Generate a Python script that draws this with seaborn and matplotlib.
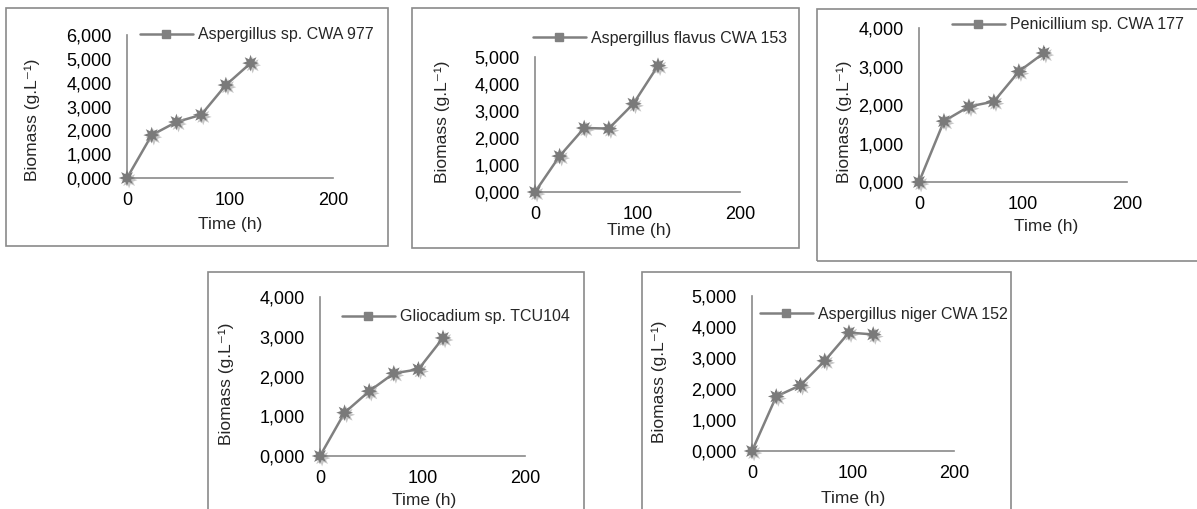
import matplotlib
matplotlib.use('Agg')
import matplotlib.pyplot as plt
import matplotlib.patheffects as pe
from matplotlib.lines import Line2D
from matplotlib.patches import Rectangle
import pandas as pd
import seaborn as sns

time_h = [0, 24, 48, 72, 96, 120]

strains = ['Aspergillus sp. CWA 977', 'Aspergillus flavus CWA 153', 'Penicillium sp. CWA 177',
           'Gliocadium sp. TCU104', 'Aspergillus niger CWA 152']
biomass_977 = [0, 1800, 2350, 2650, 3900, 4820]
biomass_153 = [0, 1330, 2370, 2350, 3270, 4680]
biomass_177 = [0, 1580, 1960, 2090, 2870, 3350]
biomass_104 = [0, 1090, 1630, 2080, 2180, 2970]
biomass_152 = [0, 1760, 2120, 2910, 3820, 3760]
err_977 = [60, 150, 150, 140, 170, 150]
err_153 = [60, 170, 140, 140, 170, 150]
err_177 = [60, 140, 140, 140, 150, 150]
err_104 = [40, 130, 130, 130, 130, 130]
err_152 = [60, 170, 170, 170, 170, 170]
y_max = [6000, 5000, 4000, 4000, 5000]
series = [biomass_977, biomass_153, biomass_177, biomass_104, biomass_152]
errors = [err_977, err_153, err_177, err_104, err_152]

# layout in pixels: axes (left, y of 0, right, y of ymax), ylabel centre, xlabel centre, legend start, box
layout = [
    dict(ax=(127, 178, 333, 35), yl=(32, 120), xl=(230, 224), lg=(140, 35), box=(6, 8, 388, 246)),
    dict(ax=(535, 192, 740, 57), yl=(442, 122), xl=(639, 231), lg=(533, 38), box=(412, 8, 799, 248)),
    dict(ax=(919, 182, 1127, 28), yl=(844, 122), xl=(1046, 227), lg=(952, 25), box=(817, 9, 1205, 261)),
    dict(ax=(320, 456, 525, 297), yl=(226, 384), xl=(424, 500), lg=(342, 317), box=(208, 272, 584, 520)),
    dict(ax=(752, 451, 954, 296), yl=(659, 382), xl=(853, 498), lg=(760, 314), box=(642, 272, 1011, 520)),
]

W, H = 1197, 509
sns.set_style('white')
plt.rcParams['font.family'] = ['Liberation Sans', 'DejaVu Sans']
fig = plt.figure(figsize=(W / 100, H / 100), dpi=100)

gray = '#808080'
spine = '#8a8a8a'

def fx(px):
    return px / W

def fy(py):
    return 1 - py / H

for name, vals, err, ymax, lay in zip(strains, series, errors, y_max, layout):
    x0, yb, x1, yt = lay['ax']
    ax = fig.add_axes([fx(x0), fy(yb), fx(x1) - fx(x0), (yb - yt) / H])
    bx0, by0, bx1, by1 = lay['box']
    fig.patches.append(Rectangle((fx(bx0), fy(by1)), fx(bx1) - fx(bx0), (by1 - by0) / H,
                                 transform=fig.transFigure, fill=False, edgecolor=spine, lw=1.2))
    df = pd.DataFrame({'t': time_h, 'b': vals})
    sns.lineplot(data=df, x='t', y='b', ax=ax, color=gray, lw=1.8, legend=False, zorder=2)
    ax.errorbar(df['t'], df['b'], yerr=err, fmt='none', ecolor='black', elinewidth=1.3, zorder=3)
    ax.plot(df['t'], df['b'], ls='none', marker=(8, 1, 0), markersize=12, markeredgewidth=0,
            color='#7a7a7a', zorder=4, clip_on=False,
            path_effects=[pe.SimplePatchShadow(offset=(1.5, -1.5), shadow_rgbFace='#a0a0a0', alpha=0.6),
                          pe.Normal()])
    ax.set_xlim(0, 200)
    ax.set_ylim(0, ymax)
    ax.set_xticks([0, 100, 200])
    ax.set_xticklabels(['0', '100', '200'])
    yt_vals = list(range(0, ymax + 1, 1000))
    ax.set_yticks(yt_vals)
    ax.set_yticklabels([f'{v // 1000},000' for v in yt_vals])
    for s in ['top', 'right']:
        ax.spines[s].set_visible(False)
    for s in ['left', 'bottom']:
        ax.spines[s].set_color(spine)
        ax.spines[s].set_linewidth(1.2)
    ax.tick_params(axis='both', direction='out', length=4, width=1.2, color=spine,
                   labelsize=13, labelcolor='black')
    ax.tick_params(axis='y', pad=7)
    ax.tick_params(axis='x', pad=6)
    ax.set_xlabel('Time (h)', fontsize=12.5, va='center')
    ax.set_ylabel('Biomass (g.L\u207b\u00b9)', fontsize=12.5, va='center')
    ax.xaxis.set_label_coords(fx(lay['xl'][0]), fy(lay['xl'][1]), transform=fig.transFigure)
    ax.yaxis.set_label_coords(fx(lay['yl'][0]), fy(lay['yl'][1]), transform=fig.transFigure)
    handle = Line2D([], [], color=gray, lw=1.8, marker='s', markersize=6)
    ax.legend([handle], [name], loc='center left', frameon=False, fontsize=11.5,
              bbox_to_anchor=(fx(lay['lg'][0]), fy(lay['lg'][1])), bbox_transform=fig.transFigure,
              borderpad=0, borderaxespad=0, handlelength=3.3, handletextpad=0.35)

plt.savefig('out.png', dpi=100)
